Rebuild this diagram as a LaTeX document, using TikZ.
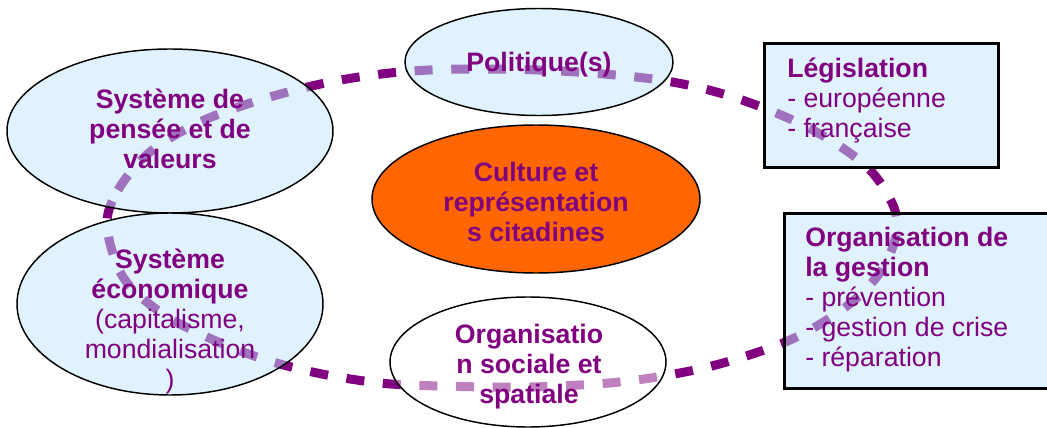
\documentclass[tikz,border=0pt]{standalone}
\usepackage{fontspec}
\setmainfont{Liberation Sans}
\usetikzlibrary{shapes.geometric}
\definecolor{dpurple}{HTML}{800080}
\definecolor{lblue}{HTML}{C1E5FD}
\definecolor{orng}{HTML}{FF6600}
\tikzset{
  bubble/.style={ellipse, draw=black, line width=1.1pt, fill=lblue, fill opacity=0.5, draw opacity=1, text opacity=1, inner sep=0pt},
  panel/.style={rectangle, draw=black, line width=2pt, fill=lblue, fill opacity=0.5, draw opacity=1, text opacity=1, inner sep=0pt, anchor=north west},
  lbl/.style={text=dpurple, align=center, inner sep=0pt, font=\fontsize{20}{22.5}\selectfont\bfseries},
  llbl/.style={text=dpurple, align=left, inner sep=0pt, anchor=north west, font=\fontsize{20}{22.5}\selectfont},
  loop/.style={draw=dpurple, line width=6.75pt, dash pattern=on 13.5pt off 14pt}
}
\begin{document}
\begin{tikzpicture}[x=0.75pt,y=-0.75pt]
\useasboundingbox (0,0) rectangle (1047,428);
% dashed loop (drawn first, seen lighter through the semi-transparent fills)
\draw[loop] plot[smooth cycle, tension=0.55] coordinates {
 (107,226) (118,190) (150,152) (200,122) (260,100) (330,82) (400,72) (470,69)
 (560,71) (660,80) (733,97) (807,127) (865,165) (893,205) (896,235) (883,268)
 (860,295) (830,318) (790,340) (740,358) (690,371) (620,382) (530,387) (440,386)
 (380,383) (317,373) (260,358) (207,337) (160,312) (123,277)};
% shapes
\node[bubble, minimum width=244.5pt, minimum height=123pt] (pensee) at (170,131) {};
\node[bubble, minimum width=229.5pt, minimum height=136.5pt] (eco) at (170,304) {};
\node[bubble, minimum width=201pt, minimum height=80.25pt] (pol) at (539,62) {};
\node[ellipse, draw=black, line width=1.1pt, fill=orng, inner sep=0pt, minimum width=246pt, minimum height=111pt] (cult) at (536,199) {};
\node[bubble, fill=white, minimum width=207pt, minimum height=97.5pt] (soc) at (528,362) {};
\node[panel, minimum width=175.5pt, minimum height=93pt] (leg) at (763,42) {};
\node[panel, minimum width=210pt, minimum height=131.25pt] (gest) at (783,212) {};
% texts
\node[lbl] (tpensee) at (170,129) {Système de\\pensée et de\\valeurs};
\node[lbl] (teco) at (170,321) {Système\\économique\\{\mdseries(capitalisme,}\\{\mdseries mondialisation}\\{\mdseries )}};
\node[lbl] (tpol) at (539,65) {Politique(s)};
\node[lbl] (tcult) at (536,202) {Culture et\\représentation\\s citadines};
\node[lbl] (tsoc) at (529,367) {Organisatio\\n sociale et\\spatiale};
\node[llbl] (tleg) at (787,58) {\textbf{Législation}\\- européenne\\- française};
\node[llbl] (tgest) at (805,227) {\textbf{Organisation de}\\\textbf{la gestion}\\- prévention\\- gestion de crise\\- réparation};
\end{tikzpicture}
\end{document}
